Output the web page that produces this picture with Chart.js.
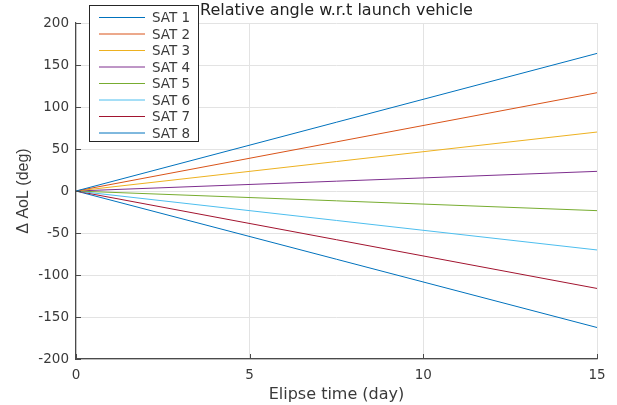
<!DOCTYPE html>
<html>
<head>
<meta charset="utf-8">
<title>Relative angle w.r.t launch vehicle</title>
<script src="https://cdn.jsdelivr.net/npm/chart.js@4"></script>
<style>
  html, body { margin: 0; padding: 0; background: #fff; }
  #wrap { width: 617px; height: 405px; }
</style>
</head>
<body>
<div id="wrap"><canvas id="aolChart" width="617" height="405"></canvas></div>
<script>
// elapsed time (day) at start and end of each run
const days = [0, 15];

// delta AoL (deg) per satellite
const sat1 = [0, 163.8];
const sat2 = [0, 117.0];
const sat3 = [0, 70.2];
const sat4 = [0, 23.4];
const sat5 = [0, -23.4];
const sat6 = [0, -70.2];
const sat7 = [0, -116.0];
const sat8 = [0, -162.5];

const satLabels = ["SAT 1", "SAT 2", "SAT 3", "SAT 4", "SAT 5", "SAT 6", "SAT 7", "SAT 8"];
const xTicks = [0, 5, 10, 15];
const yTicks = [-200, -150, -100, -50, 0, 50, 100, 150, 200];

(function () {
  const series = [sat1, sat2, sat3, sat4, sat5, sat6, sat7, sat8];
  // default colour order, 8th wraps to the first
  const colors = ["#0072BD", "#D95319", "#EDB120", "#7E2F8E", "#77AC30", "#4DBEEE", "#A2142F", "#0072BD"];
  const WIDE = "DejaVu Sans, Verdana, sans-serif";
  const NARROW = "Liberation Sans, Arial, sans-serif";
  const AXIS = "#4a4a4a";
  const TEXT = "#3a3a3a";

  const datasets = series.map((vals, i) => ({
    label: satLabels[i],
    data: days.map((d, j) => ({ x: d, y: vals[j] })),
    borderColor: colors[i],
    borderWidth: 1,
    pointRadius: 0,
    tension: 0,
    fill: false
  }));

  // inward tick marks + boxed legend in the upper left
  const extras = {
    id: "extras",
    afterDatasetsDraw(chart) {
      const { ctx, chartArea: a, scales: { x, y } } = chart;
      ctx.save();
      ctx.strokeStyle = AXIS;
      ctx.lineWidth = 1;
      ctx.beginPath();
      xTicks.forEach(v => {
        const px = Math.round(x.getPixelForValue(v)) + 0.5;
        ctx.moveTo(px, a.bottom); ctx.lineTo(px, a.bottom - 5);
      });
      yTicks.forEach(v => {
        const py = Math.round(y.getPixelForValue(v)) + 0.5;
        ctx.moveTo(a.left, py); ctx.lineTo(a.left + 5, py);
      });
      ctx.stroke();
      ctx.restore();
    },
    afterDraw(chart) {
      const { ctx } = chart;
      const box = { left: 89.5, top: 5.5, w: 109, h: 136 };
      ctx.save();
      ctx.fillStyle = "#fff";
      ctx.fillRect(box.left, box.top, box.w, box.h);
      ctx.strokeStyle = "#262626";
      ctx.lineWidth = 1;
      ctx.strokeRect(box.left, box.top, box.w, box.h);
      ctx.font = "13.5px " + WIDE;
      ctx.textBaseline = "middle";
      ctx.fillStyle = TEXT;
      chart.data.datasets.forEach((ds, i) => {
        const ry = 17.5 + i * 16.5;
        ctx.strokeStyle = ds.borderColor;
        ctx.beginPath();
        ctx.moveTo(99, ry); ctx.lineTo(145, ry);
        ctx.stroke();
        ctx.fillText(ds.label, 152, ry + 1);
      });
      ctx.restore();
    }
  };

  new Chart(document.getElementById("aolChart"), {
    type: "line",
    data: { datasets },
    options: {
      responsive: false,
      animation: false,
      layout: { padding: { left: 0, top: 0, right: 20, bottom: 0 } },
      plugins: {
        legend: { display: false },
        tooltip: { enabled: false },
        title: {
          display: true,
          fullSize: false, // center over the plot area only
          text: "Relative angle w.r.t launch vehicle",
          color: "#222",
          font: { family: WIDE, size: 16, weight: "normal" },
          padding: { top: 1.5, bottom: 2.3 }
        }
      },
      scales: {
        x: {
          type: "linear",
          min: 0, max: 15,
          afterFit: s => { s.height = 46; },
          afterBuildTicks: s => { s.ticks = xTicks.map(v => ({ value: v })); },
          ticks: { color: TEXT, padding: 8, font: { family: WIDE, size: 13.5 }, maxRotation: 0 },
          grid: { color: "#e3e3e3", drawTicks: false },
          border: { color: AXIS, width: 1.2 },
          title: {
            display: true, text: "Elipse time (day)", color: TEXT,
            font: { family: WIDE, size: 16 }, padding: { top: 0, bottom: 0.5 }
          }
        },
        y: {
          min: -200, max: 200,
          afterFit: s => { s.width = 76; },
          afterBuildTicks: s => { s.ticks = yTicks.map(v => ({ value: v })); },
          ticks: { color: TEXT, padding: 7, font: { family: WIDE, size: 13.5 } },
          grid: { color: "#e3e3e3", drawTicks: false },
          border: { color: AXIS, width: 1.2 },
          title: {
            display: true, text: "Δ AoL (deg)", color: TEXT,
            font: { family: NARROW, size: 16 }, padding: { top: 14, bottom: 0 }
          }
        }
      }
    },
    plugins: [extras]
  });
})();
</script>
</body>
</html>
